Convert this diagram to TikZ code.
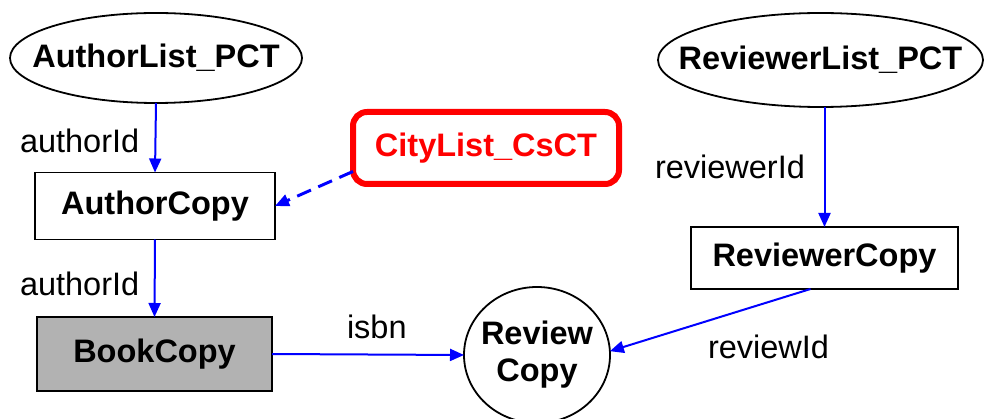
\documentclass[tikz,border=0pt]{standalone}
\usepackage{fontspec}
\setmainfont{Liberation Sans}
\usetikzlibrary{arrows.meta,shapes.geometric,calc}

\tikzset{
  every node/.style={inner sep=0pt, outer sep=0pt},
  bigtext/.style={font=\fontsize{32.5}{38}\selectfont\bfseries},
  lbl/.style={font=\fontsize{32.5}{38}\selectfont},
  oval/.style={ellipse, draw=black, line width=1.8pt},
  copybox/.style={rectangle, draw=black, line width=1.8pt, bigtext},
  link/.style={draw={rgb,255:red,0;green,0;blue,255}, line width=2pt,
    -{Triangle[length=14pt,width=12pt]}},
}

\begin{document}
\begin{tikzpicture}[x=1pt,y=-1pt]
  \useasboundingbox (0,0) rectangle (984,419);

  % source lists: outline first, then the name on top
  \node[oval, minimum width=292pt, minimum height=90pt] (al) at (156,58) {};
  \node[bigtext] (alname) at (al.center) {AuthorList\_PCT};
  \node[oval, minimum width=325pt, minimum height=94pt] (rl) at (820.5,60) {};
  \node[bigtext] (rlname) at (rl.center) {ReviewerList\_PCT};

  % copies
  \node[copybox, minimum width=240pt, minimum height=67pt] (ac) at (155,206) {AuthorCopy};
  \node[copybox, minimum width=235pt, minimum height=74pt, fill={rgb,255:red,178;green,178;blue,178}] (bc) at (154.5,354) {BookCopy};
  \node[copybox, minimum width=267pt, minimum height=62pt] (rv) at (824.5,258) {ReviewerCopy};
  \node[oval, minimum width=146pt, minimum height=136pt] (rc) at (537,355) {};
  \node[bigtext, align=center] (rcname) at (rc.center) {Review\\[-1pt]Copy};

  % city list
  \node[rectangle, rounded corners=14pt, draw={rgb,255:red,255;green,0;blue,0}, line width=6pt,
        minimum width=266pt, minimum height=72pt, bigtext,
        text={rgb,255:red,255;green,0;blue,0}] (city) at (486,148) {CityList\_CsCT};

  % connectors
  \draw[link] (al.south) -- (ac.north);
  \draw[link] (ac.south) -- (bc.north);
  \draw[link, line width=3pt, dash pattern=on 15pt off 8pt] (city.190) -- (ac.east);
  \draw[link] (rl.south -| rv.north) -- (rv.north);
  \draw[link] (bc.east) -- (rc.west);
  \draw[link] ($(rv.south)+(-14,0)$) -- (rc.3);

  % labels
  \node[lbl, anchor=base west] (l1) at (20,153) {authorId};
  \node[lbl, anchor=base west] (l2) at (20,296) {authorId};
  \node[lbl, anchor=base west] (l3) at (655,179) {reviewerId};
  \node[lbl, anchor=base west] (l4) at (347,338) {isbn};
  \node[lbl, anchor=base west] (l5) at (708,358) {reviewId};
\end{tikzpicture}
\end{document}
